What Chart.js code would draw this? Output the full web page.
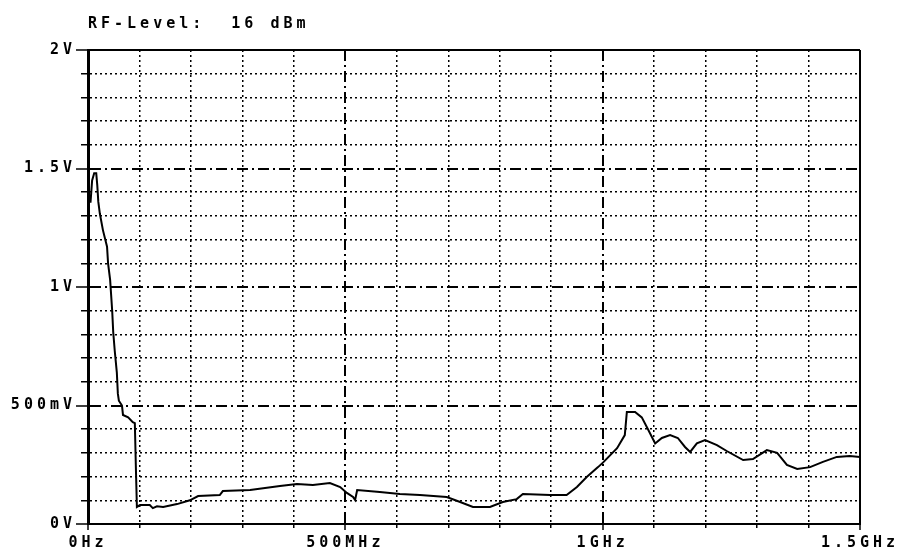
<!DOCTYPE html>
<html>
<head>
<meta charset="utf-8">
<script src="https://cdn.jsdelivr.net/npm/chart.js@4"></script>
<style>
    html, body { margin: 0; padding: 0; background: #fff; }
    #wrap { width: 899px; height: 550px; }
</style>
</head>
<body>
<div id="wrap"><canvas id="myChart" width="899" height="550"></canvas></div>
<script>
// 측정 데이터 (MHz, V)
var freqMHz = [0, 1, 5, 8, 12, 16, 18, 20, 23, 29, 37, 39, 43, 47, 49, 52, 56, 58, 60, 66, 68, 78, 87, 91, 93, 95,
    101, 120, 126, 134, 146, 173, 198, 214, 256, 262, 315, 373, 406, 437, 470, 490, 503, 515, 519, 523,
    567, 606, 645, 697, 723, 748, 781, 806, 833, 845, 898, 930, 950, 969, 991, 1001, 1028, 1043, 1047,
    1063, 1076, 1088, 1102, 1115, 1131, 1146, 1160, 1170, 1183, 1199, 1222, 1241, 1273, 1292, 1319,
    1339, 1358, 1378, 1403, 1428, 1455, 1480, 1500];
var volts = [1.67, 1.36, 1.36, 1.45, 1.48, 1.48, 1.43, 1.36, 1.31, 1.24, 1.17, 1.10, 1.03, 0.90, 0.81, 0.73, 0.64, 0.55, 0.52, 0.50, 0.46, 0.45, 0.43, 0.426, 0.24, 0.072,
    0.08, 0.08, 0.067, 0.075, 0.072, 0.084, 0.10, 0.118, 0.122, 0.139, 0.143, 0.16, 0.169, 0.165, 0.173, 0.156, 0.131, 0.114, 0.101, 0.143,
    0.135, 0.127, 0.122, 0.114, 0.093, 0.072, 0.072, 0.093, 0.105, 0.127, 0.122, 0.122, 0.156, 0.198, 0.24, 0.26, 0.32, 0.375, 0.473,
    0.473, 0.45, 0.40, 0.34, 0.363, 0.375, 0.363, 0.325, 0.304, 0.34, 0.354, 0.333, 0.308, 0.27, 0.274, 0.312,
    0.30, 0.249, 0.232, 0.24, 0.262, 0.283, 0.287, 0.283];

var xTickValues = [0, 500, 1000, 1500];
var xTickLabels = ['0Hz', '500MHz', '1GHz', '1.5GHz'];
var yTickValues = [0, 0.5, 1, 1.5, 2];
var yTickLabels = ['0V', '500mV', '1V', '1.5V', '2V'];
var titleText = 'RF-Level:  16 dBm';

var monoFont = 'DejaVu Sans Mono';
var dotted = [2, 3];
var dashDot = [11, 4, 2, 4];

function findLabel(values, labels, v, eps) {
    for (var i = 0; i < values.length; i++) {
        if (Math.abs(values[i] - v) < eps) return labels[i];
    }
    return '';
}

// 눈금 종류: 0 = 테두리, 2 = 주 눈금, 1 = 보조 눈금
function xKind(v) {
    var k = Math.round(v / 100);
    if (k === 0 || k === 15) return 0;
    return k % 5 === 0 ? 2 : 1;
}
function yKind(v) {
    var k = Math.round(v * 10);
    if (k === 0 || k === 20) return 0;
    return k % 5 === 0 ? 2 : 1;
}

function gridDash(kindFn) {
    return function(ctx) {
        if (!ctx.tick) return [];
        var kind = kindFn(ctx.tick.value);
        if (kind === 0) return [];
        return kind === 2 ? dashDot : dotted;
    };
}
function gridWidth(kindFn) {
    return function(ctx) {
        if (!ctx.tick) return 1.5;
        var kind = kindFn(ctx.tick.value);
        return kind === 1 ? 1.5 : 2;
    };
}

var points = [];
for (var i = 0; i < freqMHz.length; i++) {
    points.push({x: freqMHz[i], y: volts[i]});
}

var rfPlugin = {
    id: 'rfTitle',
    beforeDraw: function(chart) {
        chart.ctx.letterSpacing = '4px';
    },
    afterDraw: function(chart) {
        var c = chart.ctx;
        c.save();
        c.letterSpacing = '4px';
        c.font = 'bold 15px "' + monoFont + '"';
        c.fillStyle = '#000';
        c.textAlign = 'left';
        c.textBaseline = 'middle';
        c.fillText(titleText, chart.chartArea.left, 24);
        c.restore();
    }
};

const ctx = document.getElementById('myChart').getContext('2d');
var myChart = new Chart(ctx, {
    type: 'line',
    data: {
        datasets: [{
            data: points,
            borderColor: '#000',
            borderWidth: 2,
            pointRadius: 0,
            tension: 0,
            fill: false
        }]
    },
    options: {
        responsive: false,
        animation: false,
        layout: { padding: { top: 50, right: 39, left: 0, bottom: 0 } },
        plugins: {
            legend: { display: false },
            tooltip: { enabled: false }
        },
        scales: {
            x: {
                type: 'linear',
                min: 0,
                max: 1500,
                afterFit: function(scale) { scale.height = 26; },
                ticks: {
                    stepSize: 100,
                    autoSkip: false,
                    maxRotation: 0,
                    padding: 6,
                    color: '#000',
                    font: { family: monoFont, size: 15, weight: 'bold', lineHeight: 1 },
                    callback: function(v) { return findLabel(xTickValues, xTickLabels, v, 1); }
                },
                grid: {
                    color: '#000',
                    lineWidth: gridWidth(xKind),
                    tickLength: 6,
                    tickColor: '#000',
                    tickWidth: 1.5,
                    tickBorderDash: function(ctx) {
                        if (!ctx.tick) return [];
                        return xKind(ctx.tick.value) === 1 ? [3, 50] : [];
                    }
                },
                border: { display: true, color: '#000', width: 2, dash: gridDash(xKind) }
            },
            y: {
                min: 0,
                max: 2,
                afterFit: function(scale) { scale.width = 88; },
                ticks: {
                    stepSize: 0.1,
                    autoSkip: false,
                    padding: 0,
                    color: '#000',
                    font: { family: monoFont, size: 15, weight: 'bold' },
                    callback: function(v) { return findLabel(yTickValues, yTickLabels, v, 0.01); }
                },
                grid: {
                    color: '#000',
                    lineWidth: gridWidth(yKind),
                    tickLength: 12,
                    tickColor: '#000',
                    tickWidth: 1.5,
                    tickBorderDash: function(ctx) {
                        if (!ctx.tick) return [];
                        return yKind(ctx.tick.value) === 1 ? [0, 5, 7, 50] : [];
                    }
                },
                border: { display: true, color: '#000', width: 3, dash: gridDash(yKind) }
            }
        }
    },
    plugins: [rfPlugin]
});
</script>
</body>
</html>
